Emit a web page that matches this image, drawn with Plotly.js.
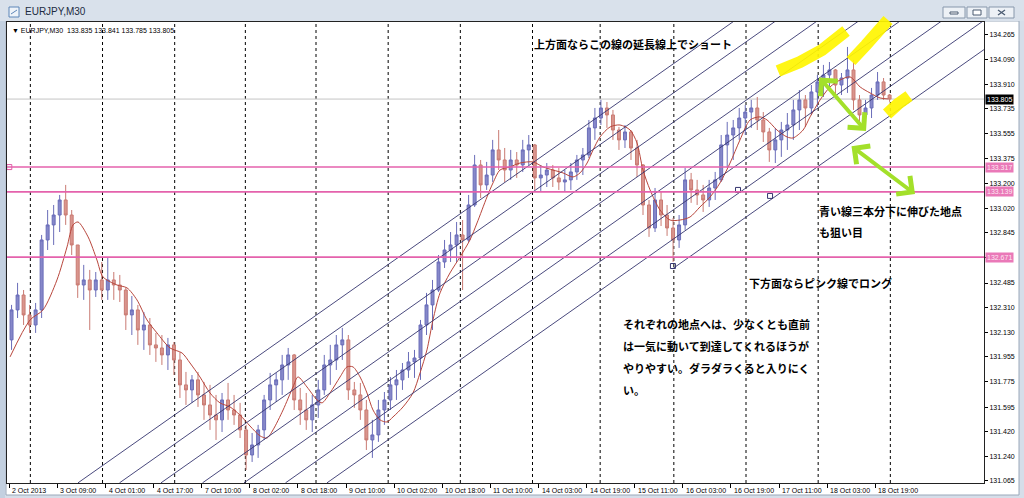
<!DOCTYPE html>
<html><head><meta charset="utf-8">
<script src="https://cdn.plot.ly/plotly-3.0.1.min.js"></script>
<style>html,body{margin:0;padding:0;background:#d6dee9;}#chart{width:1024px;height:498px;}</style>
</head><body><div id="chart"></div>
<script>
// ---------------- data ----------------
const windowTitle = "EURJPY,M30";
const lastBarOHLC = [133.835, 133.841, 133.785, 133.805];
const currentPrice = 133.805;
const pinkLevels = [133.317, 133.139, 132.671];

const priceTicks = [134.265,134.090,133.910,133.735,133.555,133.375,133.200,133.020,132.845,132.665,132.485,132.310,132.130,131.955,131.775,131.595,131.420,131.240,131.065];
const hiddenTick = 132.665; // covered by the 132.671 price box in the reference
const timeLabels = ["2 Oct 2013","3 Oct 09:00","4 Oct 01:00","4 Oct 17:00","7 Oct 10:00","8 Oct 02:00","8 Oct 18:00","9 Oct 10:00","10 Oct 02:00","10 Oct 18:00","11 Oct 10:00","14 Oct 03:00","14 Oct 19:00","15 Oct 11:00","16 Oct 03:00","16 Oct 19:00","17 Oct 11:00","18 Oct 03:00","18 Oct 19:00"];
const timeLabelBars = [0,32,64,96,128,160,192,224,256,288,320,352,384,416,448,480,512,544,576];
const dayStartBars = [14,62,110,157,204,252,300,348,393,442,490,538,586];

// 2-hour candles (4 x M30 bars each)
const candleOpen = [132.077,132.292,132.399,132.256,132.184,132.292,132.794,132.902,132.973,133.081,132.973,132.758,132.471,132.507,132.435,132.507,132.435,132.507,132.471,132.435,132.256,132.292,132.148,132.184,132.041,132.019,131.969,132.041,131.933,131.754,131.718,131.790,131.682,131.610,131.538,131.503,131.646,131.574,131.538,131.431,131.251,131.323,131.431,131.646,131.754,131.790,131.897,131.969,131.646,131.574,131.503,131.610,131.718,131.897,131.933,132.041,132.077,131.718,131.682,131.574,131.359,131.395,131.574,131.646,131.754,131.790,131.861,131.919,131.947,132.184,132.328,132.435,132.636,132.722,132.758,132.830,132.794,133.045,133.332,133.189,133.260,133.440,133.368,133.296,133.368,133.332,133.440,133.476,133.239,133.260,133.296,133.239,133.210,133.225,133.282,133.368,133.404,133.598,133.669,133.741,133.691,133.583,133.512,133.569,133.454,133.332,133.045,132.880,133.081,132.973,132.880,132.794,132.902,133.225,133.153,133.117,133.081,133.167,133.225,133.476,133.547,133.598,133.669,133.712,133.741,133.655,133.569,133.440,133.512,133.583,133.619,133.727,133.799,133.741,133.856,133.928,133.978,134.014,133.906,133.956,134.014,133.799,133.691,133.741,133.834,133.928,133.834];
const candleHigh = [132.328,132.486,132.435,132.328,132.342,132.830,133.009,133.045,133.117,133.189,133.009,132.758,132.615,132.579,132.564,132.636,132.665,132.564,132.543,132.450,132.392,132.328,132.277,132.234,132.127,132.112,132.091,132.062,131.990,131.847,131.825,131.847,131.775,131.754,131.682,131.696,131.768,131.682,131.625,131.467,131.409,131.467,131.682,131.840,131.840,131.969,132.019,131.976,131.732,131.696,131.682,131.790,131.969,132.041,132.112,132.163,132.112,131.775,131.768,131.646,131.503,131.646,131.703,131.811,131.861,131.911,131.990,132.005,132.220,132.414,132.507,132.686,132.794,132.851,132.923,132.937,133.117,133.404,133.368,133.354,133.512,133.583,133.454,133.440,133.425,133.512,133.547,133.483,133.332,133.346,133.332,133.311,133.296,133.346,133.404,133.454,133.655,133.741,133.799,133.784,133.727,133.605,133.619,133.583,133.512,133.339,133.081,133.167,133.138,133.045,132.952,132.973,133.311,133.275,133.225,133.189,133.225,133.282,133.547,133.641,133.655,133.741,133.763,133.799,133.820,133.712,133.598,133.598,133.641,133.705,133.799,133.870,133.834,133.906,133.978,134.050,134.071,134.021,133.992,134.179,134.086,133.834,133.799,133.885,133.999,133.956,133.841];
const candleLow = [132.005,132.234,132.184,132.127,132.127,132.234,132.722,132.758,132.851,132.902,132.686,132.378,132.364,132.148,132.385,132.364,132.364,132.364,132.349,132.148,132.112,132.041,132.005,131.969,131.919,131.897,131.861,131.825,131.660,131.610,131.625,131.596,131.503,131.431,131.359,131.416,131.503,131.467,131.373,131.144,131.201,131.230,131.359,131.574,131.632,131.682,131.790,131.574,131.467,131.431,131.416,131.517,131.682,131.754,131.861,131.933,131.646,131.589,131.503,131.287,131.230,131.345,131.467,131.574,131.646,131.718,131.804,131.804,131.790,132.112,132.148,132.421,132.593,132.636,132.636,132.435,132.780,133.031,133.095,133.153,133.210,133.296,133.210,133.225,133.239,133.282,133.332,133.153,133.138,133.174,133.174,133.153,133.138,133.153,133.225,133.260,133.382,133.512,133.619,133.598,133.512,133.440,133.454,133.368,133.246,132.973,132.816,132.851,132.894,132.823,132.636,132.737,132.866,133.060,133.045,132.995,133.031,133.081,133.210,133.311,133.368,133.512,133.547,133.598,133.583,133.497,133.354,133.346,133.390,133.440,133.512,133.583,133.605,133.691,133.748,133.820,133.870,133.820,133.834,133.849,133.727,133.619,133.583,133.669,133.799,133.799,133.785];
const candleClose = [132.292,132.399,132.256,132.184,132.292,132.794,132.902,132.973,133.081,132.973,132.758,132.471,132.507,132.435,132.507,132.435,132.507,132.471,132.435,132.256,132.292,132.148,132.184,132.041,132.019,131.969,132.041,131.933,131.754,131.718,131.790,131.682,131.610,131.538,131.503,131.646,131.574,131.538,131.431,131.251,131.323,131.431,131.646,131.754,131.790,131.897,131.969,131.646,131.574,131.503,131.610,131.718,131.897,131.933,132.041,132.077,131.718,131.682,131.574,131.359,131.395,131.574,131.646,131.754,131.790,131.861,131.919,131.947,132.184,132.328,132.435,132.636,132.722,132.758,132.830,132.794,133.045,133.332,133.189,133.260,133.440,133.368,133.296,133.368,133.332,133.440,133.476,133.239,133.260,133.296,133.239,133.210,133.225,133.282,133.368,133.404,133.598,133.669,133.741,133.691,133.583,133.512,133.569,133.454,133.332,133.045,132.880,133.081,132.973,132.880,132.794,132.902,133.225,133.153,133.117,133.081,133.167,133.225,133.476,133.547,133.598,133.669,133.712,133.741,133.655,133.569,133.440,133.512,133.583,133.619,133.727,133.799,133.741,133.856,133.928,133.978,134.014,133.906,133.956,134.014,133.799,133.691,133.741,133.834,133.928,133.834,133.805];

// moving average, read at irregular bar positions
const maBars = [0.5,13.8,22.4,31.7,38.4,42.4,45.7,52.4,58.3,62.3,71.6,78.3,84.9,91.6,98.2,106.9,114.9,120.2,126.8,133.5,140.1,146.8,153.4,160.1,166.8,171.4,175.4,182.1,188.7,192.0,198.0,204.7,208.0,213.3,220.0,224.6,228.6,233.3,237.9,241.9,246.6,251.2,255.2,261.9,268.5,273.2,277.8,281.8,286.5,293.1,299.8,306.4,311.1,317.7,321.7,326.4,333.0,339.7,348.3,355.0,361.6,368.3,374.9,379.6,384.3,388.3,392.9,399.6,406.2,412.9,417.5,421.5,426.2,432.8,439.5,446.1,452.8,459.4,466.1,472.7,479.4,486.0,492.7,499.3,504.0,510.6,517.3,521.3,528.0,532.6,539.3,545.9,552.6,559.2,565.9,572.5,579.2,584.4];
const maPrices = [131.955,132.220,132.292,132.507,132.744,132.902,132.923,132.816,132.650,132.529,132.471,132.450,132.364,132.220,132.127,132.019,131.983,131.911,131.811,131.696,131.625,131.596,131.538,131.459,131.388,131.373,131.431,131.574,131.739,131.811,131.739,131.646,131.625,131.696,131.811,131.883,131.883,131.811,131.696,131.574,131.503,131.488,131.524,131.596,131.696,131.840,132.005,132.220,132.414,132.557,132.672,132.794,132.916,133.102,133.203,133.296,133.318,133.346,133.354,133.318,133.296,133.275,133.246,133.275,133.346,133.440,133.533,133.605,133.619,133.583,133.490,133.296,133.153,133.009,132.937,132.937,132.959,133.031,133.102,133.203,133.346,133.512,133.655,133.677,133.655,133.583,133.533,133.526,133.583,133.677,133.799,133.892,133.942,133.964,133.892,133.849,133.813,133.806];

// parallel channel lines: start point of each ray + common slope (price per bar)
const chanStartBar   = [45.7,73.3,100.9,128.5,156.1,183.7,211.3,441.4];
const chanStartPrice = [131.051,131.051,131.051,131.051,131.051,131.051,131.051,132.589];
const chanSlope = 0.007594;

// object anchor squares
const anchorBars = [441.4, 484.7, 506.0];
const anchorPrices = [132.607, 133.153, 133.110];

// ---------------- layout helpers (pixel -> paper) ----------------
const PL = 7, PR = 984, PT = 22, PB = 483;
const xp = px => (px - PL) / (PR - PL);
const yp = py => (PB - py) / (PB - PT);

const candleBars = candleOpen.map((_, k) => 4 * k + 1.5);

const traces = [];
traces.push({
  type: 'candlestick', x: candleBars, open: candleOpen, high: candleHigh, low: candleLow, close: candleClose,
  increasing: {line: {color: '#6a6db9', width: 1}, fillcolor: '#8688c9'},
  decreasing: {line: {color: '#c97a72', width: 1}, fillcolor: '#d9958d'},
  whiskerwidth: 0, hoverinfo: 'skip', showlegend: false
});
traces.push({
  type: 'scatter', mode: 'lines', x: maBars, y: maPrices,
  line: {color: '#b8463c', width: 1, shape: 'spline', smoothing: 0.8}, hoverinfo: 'skip', showlegend: false
});
const cx = [], cy = [];
const endBar = 720;
chanStartBar.forEach((b, i) => {
  cx.push(b, endBar, null);
  cy.push(chanStartPrice[i], chanStartPrice[i] + chanSlope * (endBar - b), null);
});
traces.push({type: 'scatter', mode: 'lines', x: cx, y: cy, line: {color: '#34346e', width: 0.9}, hoverinfo: 'skip', showlegend: false, connectgaps: false});
traces.push({type: 'scatter', mode: 'markers', x: anchorBars, y: anchorPrices,
  marker: {symbol: 'square-open', size: 5, color: '#34346e', line: {width: 1}}, hoverinfo: 'skip', showlegend: false});
traces.push({type: 'scatter', mode: 'markers', x: [0], y: [pinkLevels[0]],
  marker: {symbol: 'square-open', size: 5, color: '#e05aa6', line: {width: 1}}, hoverinfo: 'skip', showlegend: false});

const shapes = [];
shapes.push({type: 'rect', xref: 'paper', yref: 'paper', x0: xp(6), x1: xp(1019), y0: yp(495), y1: yp(21), fillcolor: '#ffffff', line: {color: '#9aa8ba', width: 1}, layer: 'below'});
shapes.push({type: 'rect', xref: 'paper', yref: 'paper', x0: xp(0), x1: xp(1024), y0: yp(21), y1: yp(0), fillcolor: '#d9e1eb', line: {width: 0}, layer: 'below'});
shapes.push({type: 'rect', xref: 'paper', yref: 'paper', x0: xp(0), x1: xp(5), y0: yp(498), y1: yp(21), fillcolor: '#c3d0e0', line: {width: 0}, layer: 'below'});
shapes.push({type: 'rect', xref: 'paper', yref: 'paper', x0: xp(9), x1: xp(19), y0: yp(17), y1: yp(7), fillcolor: '#eef3f9', line: {color: '#5d86b8', width: 1}});
shapes.push({type: 'line', xref: 'paper', yref: 'paper', x0: xp(11), x1: xp(17), y0: yp(14), y1: yp(10), line: {color: '#5d86b8', width: 1}});
[[943, 965], [967, 987], [989, 1014]].forEach(b => {
  shapes.push({type: 'rect', xref: 'paper', yref: 'paper', x0: xp(b[0]), x1: xp(b[1]), y0: yp(18), y1: yp(7), fillcolor: '#edf1f6', line: {color: '#8797ab', width: 1}});
});
shapes.push({type: 'rect', xref: 'paper', yref: 'paper', x0: xp(950), x1: xp(958), y0: yp(14), y1: yp(12), fillcolor: '#ffffff', line: {color: '#4a5a70', width: 1}});
shapes.push({type: 'rect', xref: 'paper', yref: 'paper', x0: xp(973), x1: xp(981), y0: yp(15), y1: yp(10), fillcolor: '#ffffff', line: {color: '#4a5a70', width: 1}});
shapes.push({type: 'line', xref: 'paper', yref: 'paper', x0: xp(998), x1: xp(1005), y0: yp(15), y1: yp(10), line: {color: '#4a5a70', width: 1.2}});
shapes.push({type: 'line', xref: 'paper', yref: 'paper', x0: xp(998), x1: xp(1005), y0: yp(10), y1: yp(15), line: {color: '#4a5a70', width: 1.2}});
dayStartBars.forEach(b => shapes.push({type: 'line', xref: 'x', yref: 'paper', x0: b, x1: b, y0: 0, y1: 1, line: {color: '#000000', width: 1, dash: 'dot'}, layer: 'below'}));
shapes.push({type: 'line', xref: 'paper', yref: 'y', x0: 0, x1: 1, y0: currentPrice, y1: currentPrice, line: {color: '#c4c4c4', width: 1}, layer: 'below'});
pinkLevels.forEach(v => shapes.push({type: 'line', xref: 'paper', yref: 'y', x0: 0, x1: 1, y0: v, y1: v, line: {color: '#e462ac', width: 1.6}}));
const yellowStrokes = [
  [[778, 71], [800, 62], [822, 50], [846, 31]],
  [[851, 61], [866, 45], [888, 20]],
  [[887, 114], [898, 104], [909, 96]]
];
yellowStrokes.forEach(s => {
  const d = s.map((p, i) => (i ? 'L' : 'M') + xp(p[0]).toFixed(5) + ',' + yp(p[1]).toFixed(5)).join(' ');
  shapes.push({type: 'path', xref: 'paper', yref: 'paper', path: d, line: {color: 'rgba(255,245,0,0.92)', width: 12}});
});

const annotations = [];
const jpFont = {family: 'Noto Sans CJK JP, sans-serif', size: 11, color: '#000000', weight: 600};
const smallFont = {family: 'Liberation Sans, Arial, sans-serif', size: 7, color: '#000000'};
function txt(str, px, py, font, extra) {
  annotations.push(Object.assign({text: str, xref: 'paper', yref: 'paper', x: xp(px), y: yp(py), xanchor: 'left', yanchor: 'middle', showarrow: false, font: font}, extra || {}));
}
txt(windowTitle, 23, 12, {family: 'Liberation Sans, Arial, sans-serif', size: 10, color: '#1c2b42'});
txt('\u25BC ' + windowTitle + '  ' + lastBarOHLC.map(v => v.toFixed(3)).join(' '), 10, 30, smallFont);
txt('上方面ならこの線の延長線上でショート', 532, 44, jpFont);
txt('青い線三本分下に伸びた地点', 817, 211, jpFont);
txt('も狙い目', 817, 232, jpFont);
txt('下方面ならピンク線でロング', 747, 283, jpFont);
txt('それぞれの地点へは、少なくとも直前', 621, 324, jpFont);
txt('は一気に動いて到達してくれるほうが', 621, 346, jpFont);
txt('やりやすい。ダラダラくると入りにく', 621, 368, jpFont);
txt('い。', 621, 390, jpFont);

timeLabels.forEach((t, i) => annotations.push({text: t, xref: 'x', yref: 'paper', x: timeLabelBars[i], y: yp(490), xanchor: 'left', yanchor: 'middle', xshift: 1, showarrow: false, font: smallFont}));

function priceBox(v, bg, fg) {
  annotations.push({text: v.toFixed(3), xref: 'paper', yref: 'y', x: 1, y: v, xanchor: 'left', yanchor: 'middle', xshift: 1,
    showarrow: false, bgcolor: bg, borderpad: 1, font: {family: 'Liberation Sans, Arial, sans-serif', size: 7, color: fg}});
}
pinkLevels.forEach(v => priceBox(v, '#ea79b8', '#fde8f3'));
priceBox(currentPrice, '#000000', '#ffffff');

const greenArrows = [[[866, 131], [818, 76]], [[915, 194], [850, 145]]];
greenArrows.forEach(a => {
  annotations.push({text: '', xref: 'paper', yref: 'paper', x: xp(a[0][0]), y: yp(a[0][1]), ax: a[1][0] - a[0][0], ay: a[1][1] - a[0][1],
    showarrow: true, arrowside: 'end+start', arrowhead: 4, startarrowhead: 4, arrowsize: 1.1, startarrowsize: 1.1, arrowwidth: 4, arrowcolor: '#a3e02a'});
});

const layout = {
  width: 1024, height: 498, autosize: false,
  margin: {l: PL, r: 1024 - PR, t: PT, b: 498 - PB, pad: 0},
  paper_bgcolor: '#d6dee9', plot_bgcolor: '#ffffff',
  showlegend: false, hovermode: false, dragmode: false,
  xaxis: {range: [-1.53, 648.3], tickmode: 'array', tickvals: timeLabelBars, showticklabels: false,
    ticks: 'outside', ticklen: 4, tickcolor: '#000',
    showgrid: false, zeroline: false, showline: true, linecolor: '#222', linewidth: 1, mirror: true, rangeslider: {visible: false}, fixedrange: true},
  yaxis: {range: [131.050, 134.358], side: 'right', tickmode: 'array', tickvals: priceTicks,
    ticktext: priceTicks.map(v => v === hiddenTick ? '' : v.toFixed(3)),
    ticks: 'outside', ticklen: 3, tickcolor: '#000', tickfont: smallFont,
    showgrid: false, zeroline: false, showline: true, linecolor: '#222', linewidth: 1, mirror: true, fixedrange: true},
  shapes: shapes, annotations: annotations
};
Plotly.newPlot('chart', traces, layout, {staticPlot: true, displayModeBar: false});
</script></body></html>
